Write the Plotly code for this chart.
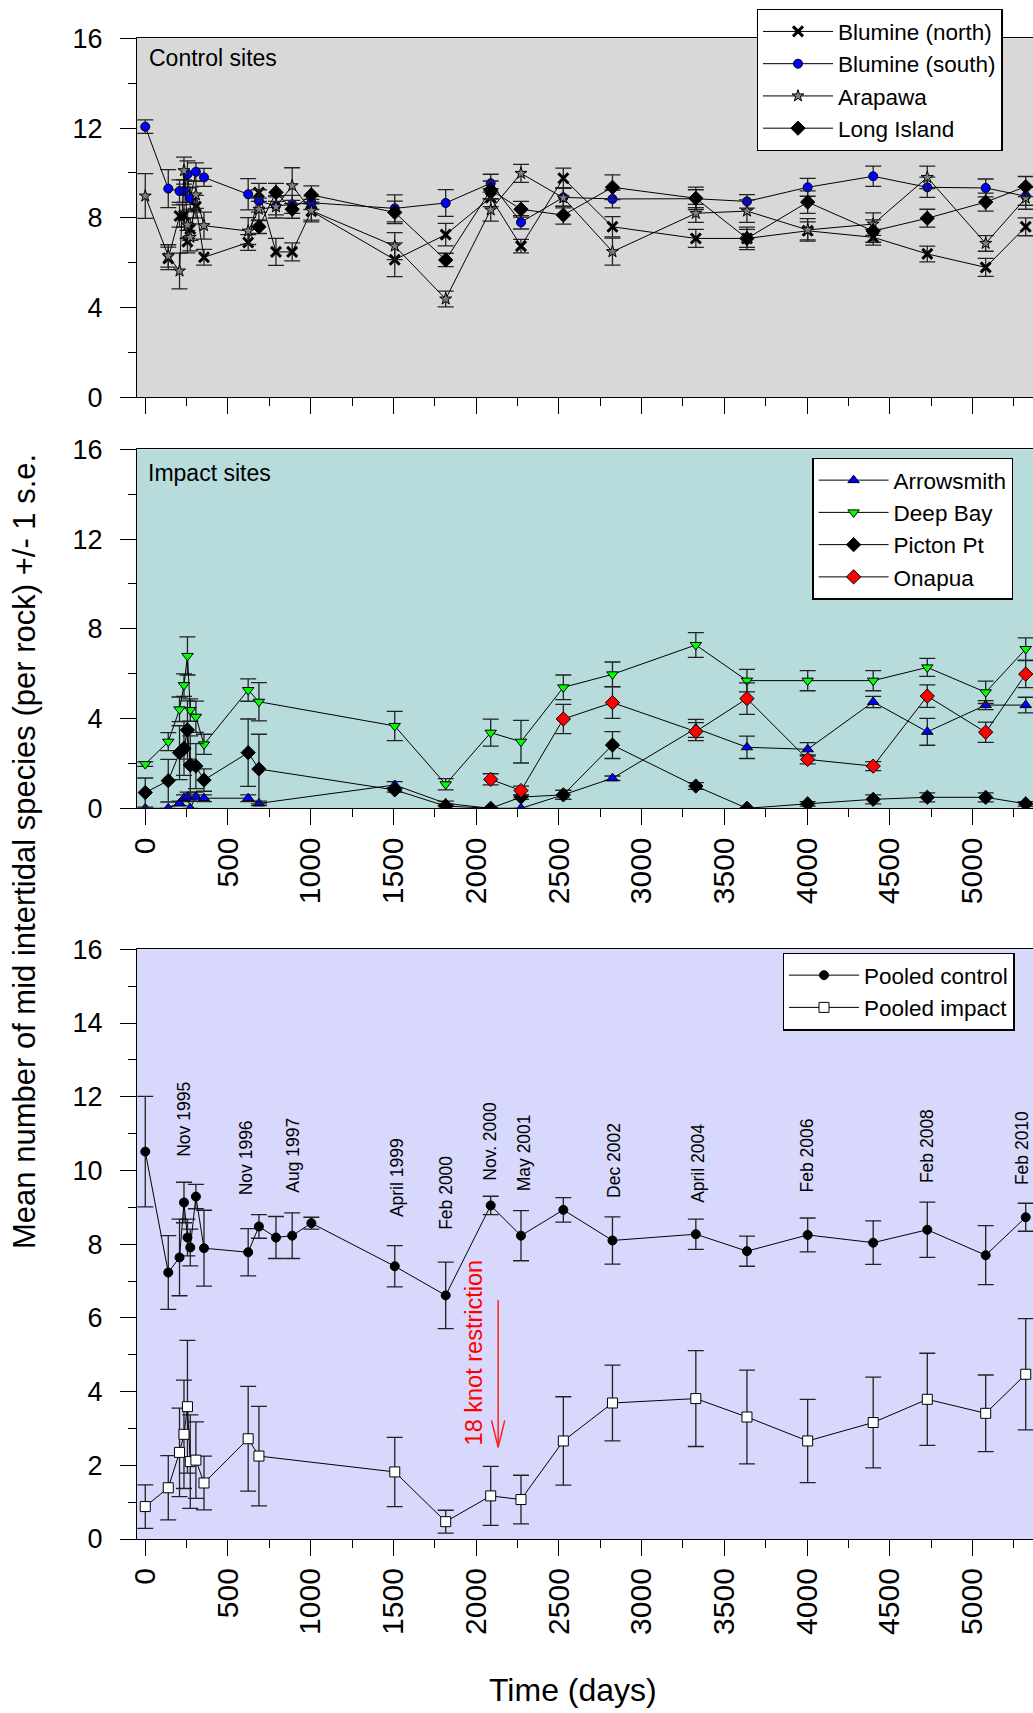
import plotly.graph_objects as go

# ---------------- data ----------------
days = [0, 139, 207, 234, 255, 272, 306, 355, 622, 687, 790, 888, 1004, 1508, 1816,
        2088, 2271, 2527, 2824, 3328, 3637, 4004, 4400, 4727, 5080, 5322]

# Control sites
blumine_north = [None, 6.19, 8.08, 8.1, 6.94, 7.5, 8.5, 6.24, 6.9, 9.13, 6.48, 6.48, 8.3, 6.13, 7.25,
                 8.9, 6.74, 9.76, 7.6, 7.08, 7.08, 7.42, 7.13, 6.39, 5.79, 7.6]
blumine_north_se = [None, 0.5, 0.5, 0.5, 0.5, 0.5, 0.5, 0.35, 0.35, 0.4, 0.6, 0.4, 0.4, 0.75, 0.5,
                    0.4, 0.3, 0.45, 0.45, 0.4, 0.4, 0.4, 0.35, 0.35, 0.4, 0.4]
blumine_south = [12.06, 9.30, 9.19, 9.19, 9.94, 8.87, 10.05, 9.80, 9.05, 8.75, 8.53, 8.6, 8.67, 8.42, 8.66,
                 9.54, 7.80, 8.91, 8.84, 8.85, 8.73, 9.36, 9.85, 9.36, 9.33, 8.96]
blumine_south_se = [0.3, 0.85, 0.5, 0.5, 0.6, 0.5, 0.4, 0.4, 0.7, 0.5, 0.4, 0.4, 0.3, 0.6, 0.6,
                    0.4, 0.3, 0.4, 0.4, 0.4, 0.3, 0.4, 0.45, 0.45, 0.4, 0.4]
arapawa = [8.97, 6.30, 5.63, 10.10, 7.68, 7.13, 9.02, 7.65, 7.41, 8.38, 8.49, 9.43, 8.32, 6.74, 4.38,
           8.35, 9.98, 8.89, 6.49, 8.2, 8.30, 7.46, 7.72, 9.80, 6.86, 8.88]
arapawa_se = [1.0, 0.5, 0.8, 0.6, 0.6, 0.6, 0.6, 0.6, 0.6, 0.5, 0.5, 0.8, 0.5, 0.6, 0.35,
              0.5, 0.4, 0.45, 0.6, 0.4, 0.5, 0.5, 0.5, 0.5, 0.35, 0.5]
long_island = [None, None, None, None, None, None, None, None, None, 7.6, 9.13, 8.38, 9.02, 8.24, 6.12,
               9.24, 8.38, 8.12, 9.36, 8.87, 7.08, 8.70, 7.41, 7.98, 8.70, 9.39]
long_island_se = [None, None, None, None, None, None, None, None, None, 0.3, 0.4, 0.4, 0.4, 0.5, 0.3,
                  0.4, 0.35, 0.4, 0.55, 0.5, 0.5, 0.5, 0.5, 0.4, 0.4, 0.45]

# Impact sites
arrowsmith = [0, 0, 0.22, 0.45, 0.52, 0, 0.52, 0.45, 0.45, 0.22, None, None, None, 1.04, 0.22,
              0, 0, 0.6, 1.34, 3.56, 2.72, 2.63, 4.74, 3.41, 4.6, 4.6]
arrowsmith_se = [0, 0, 0.1, 0.15, 0.2, 0, 0.2, 0.15, 0.15, 0.1, None, None, None, 0.15, 0.1,
                 0, 0, 0.2, 0.1, 0.4, 0.5, 0.3, 0.25, 0.6, 0.2, 0.35]
deep_bay = [1.97, 2.97, 4.41, 5.49, 6.79, 4.38, 4.08, 2.85, 5.27, 4.75, None, None, None, 3.67, 1.07,
            3.37, 2.97, 5.39, 5.97, 7.28, 5.69, 5.69, 5.69, 6.28, 5.17, 7.10]
deep_bay_se = [0.1, 0.4, 0.55, 0.5, 0.85, 0.5, 0.7, 0.45, 0.5, 0.85, None, None, None, 0.65, 0.25,
               0.6, 0.95, 0.55, 0.55, 0.55, 0.5, 0.45, 0.45, 0.4, 0.5, 0.5]
picton_pt = [0.7, 1.23, 2.48, 2.67, 3.49, 1.93, 1.88, 1.26, 2.48, 1.75, None, None, None, 0.82, 0.1,
             0, 0.5, 0.6, 2.82, 0.99, 0, 0.2, 0.4, 0.49, 0.49, 0.2]
picton_pt_se = [0.65, 0.95, 1.2, 1.2, 1.3, 1.3, 1.0, 0.5, 1.5, 1.55, None, None, None, 0.1, 0.1,
                0, 0.1, 0.2, 0.6, 0.15, 0, 0.1, 0.2, 0.2, 0.2, 0.1]
onapua = [None, None, None, None, None, None, None, None, None, None, None, None, None, None, None,
          1.29, 0.79, 3.98, 4.71, 3.42, 4.89, 2.18, 1.88, 5.0, 3.39, 5.98]
onapua_se = [None, None, None, None, None, None, None, None, None, None, None, None, None, None, None,
             0.25, 0.2, 0.65, 0.7, 0.4, 0.7, 0.2, 0.2, 0.5, 0.45, 0.6]

# Pooled
pooled_control = [10.51, 7.23, 7.64, 9.13, 8.18, 7.91, 9.29, 7.89, 7.78, 8.48, 8.18, 8.23, 8.57, 7.40, 6.61,
                  9.05, 8.23, 8.93, 8.10, 8.27, 7.81, 8.25, 8.04, 8.39, 7.70, 8.73]
pooled_control_se = [1.5, 1.0, 1.04, 0.55, 0.5, 0.5, 0.33, 1.03, 0.64, 0.32, 0.57, 0.62, 0.16, 0.56, 0.9,
                     0.25, 0.68, 0.33, 0.64, 0.41, 0.41, 0.46, 0.59, 0.75, 0.8, 0.38]
pooled_impact = [0.88, 1.39, 2.35, 2.84, 3.59, 2.10, 2.14, 1.52, 2.72, 2.25, None, None, None, 1.82, 0.47,
                 1.17, 1.07, 2.66, 3.69, 3.81, 3.31, 2.66, 3.16, 3.79, 3.41, 4.47]
pooled_impact_se = [0.59, 0.87, 1.2, 1.47, 1.8, 1.27, 1.04, 0.73, 1.42, 1.35, None, None, None, 0.94, 0.31,
                    0.8, 0.66, 1.2, 1.03, 1.3, 1.27, 1.13, 1.23, 1.25, 1.04, 1.51]

# Date labels on the pooled panel
date_labels = ["Nov 1995", "Nov 1996", "Aug 1997", "April 1999", "Feb 2000", "Nov. 2000", "May 2001",
               "Dec 2002", "April 2004", "Feb 2006", "Feb 2008", "Feb 2010"]
date_label_days = [232, 614, 892, 1521, 1817, 2085, 2290, 2834, 3345, 3998, 4727, 5300]
date_label_base = [10.32, 9.28, 9.35, 8.69, 8.33, 9.66, 9.37, 9.19, 9.07, 9.34, 9.61, 9.55]

restriction_text = "18 knot restriction"
restriction_day = 2133
arrow_top = 6.48
arrow_tip = 2.49

FONT = "Liberation Sans, Arial, sans-serif"
W, H = 1033, 1713
L = 137

fig = go.Figure()


def add(name, y, err, xa, ya, legend, symbol, color, size, lw=1):
    fig.add_trace(go.Scatter(
        x=days, y=y, name=name, mode="lines+markers", connectgaps=True,
        line=dict(color="black", width=1),
        marker=dict(symbol=symbol, color=color, size=size, line=dict(color="black", width=lw)),
        error_y=dict(type="data", array=err, visible=True, color="#222222", thickness=1.3, width=8),
        xaxis=xa, yaxis=ya, legend=legend))


add("Blumine (north)", blumine_north, blumine_north_se, "x", "y", "legend", "x-thin", "black", 10, 3)
add("Blumine (south)", blumine_south, blumine_south_se, "x", "y", "legend", "circle", "#0000ff", 9)
add("Arapawa", arapawa, arapawa_se, "x", "y", "legend", "star", "#808080", 9)
add("Long Island", long_island, long_island_se, "x", "y", "legend", "diamond", "black", 11)

add("Arrowsmith", arrowsmith, arrowsmith_se, "x2", "y2", "legend2", "triangle-up", "#0000ff", 10)
add("Deep Bay", deep_bay, deep_bay_se, "x2", "y2", "legend2", "triangle-down", "#00ff00", 10)
add("Picton Pt", picton_pt, picton_pt_se, "x2", "y2", "legend2", "diamond", "black", 11)
add("Onapua", onapua, onapua_se, "x2", "y2", "legend2", "diamond", "#ff0000", 11)

add("Pooled control", pooled_control, pooled_control_se, "x3", "y3", "legend3", "circle", "black", 9)
add("Pooled impact", pooled_impact, pooled_impact_se, "x3", "y3", "legend3", "square", "white", 10)


def px_to_py(py):
    return 1 - py / H


def px_to_px(px):
    return (px - L) / (W - L)


xbase = dict(range=[-50, 5366], showline=True, linecolor="black", linewidth=1.3, mirror=True,
             ticks="outside", ticklen=16, tickwidth=1.3, tickcolor="black", tick0=0, dtick=500,
             minor=dict(ticks="outside", ticklen=8, dtick=250, tickwidth=1.3, tickcolor="black"),
             showgrid=False, zeroline=False, tickangle=-90,
             tickfont=dict(size=30, family=FONT, color="black"), automargin=False)
ybase = dict(range=[0, 16], showline=True, linecolor="black", linewidth=1.3,
             ticks="outside", ticklen=16, tickwidth=1.3, tickcolor="black", tick0=0, dtick=4,
             minor=dict(ticks="outside", ticklen=8, dtick=2, tickwidth=1.3, tickcolor="black"),
             showgrid=False, zeroline=False, ticklabelstandoff=12,
             tickfont=dict(size=27, family=FONT, color="black"), automargin=False)

dom_top = [px_to_py(397.3), px_to_py(38.3)]
dom_mid = [px_to_py(808.3), px_to_py(449.3)]
dom_bot = [px_to_py(1539), px_to_py(949.3)]

ybot = dict(ybase)
ybot.update(dtick=2, minor=dict(ticks="outside", ticklen=8, dtick=1, tickwidth=1.3, tickcolor="black"))

legend_base = dict(bgcolor="white", bordercolor="black", borderwidth=1.3,
                   font=dict(size=22.5, family=FONT, color="black"), xanchor="left", yanchor="top",
                   itemwidth=70, tracegroupgap=0)

fig.update_layout(
    width=W, height=H, margin=dict(l=L, r=0, t=0, b=0),
    paper_bgcolor="white", plot_bgcolor="white",
    font=dict(family=FONT, color="black"),
    xaxis=dict(xbase, domain=[0, 1], anchor="y", showticklabels=False),
    yaxis=dict(ybase, domain=dom_top, anchor="x"),
    xaxis2=dict(xbase, domain=[0, 1], anchor="y2"),
    yaxis2=dict(ybase, domain=dom_mid, anchor="x2"),
    xaxis3=dict(xbase, domain=[0, 1], anchor="y3"),
    yaxis3=dict(ybot, domain=dom_bot, anchor="x3"),
    legend=dict(legend_base, x=px_to_px(756.7), y=px_to_py(9)),
    legend2=dict(legend_base, x=px_to_px(812.3), y=px_to_py(457.7)),
    legend3=dict(legend_base, x=px_to_px(782.7), y=px_to_py(952.7)),
    showlegend=True,
)

# panel backgrounds
for xr, yr, col in [("x", "y", "#d8d8d8"), ("x2", "y2", "#b8dcdc"), ("x3", "y3", "#d8d8fc")]:
    fig.add_shape(type="rect", xref=f"{xr} domain", yref=f"{yr} domain", x0=0, x1=1, y0=0, y1=1,
                  fillcolor=col, line=dict(width=0), layer="below")

# arrow for restriction
fig.add_shape(type="line", xref="x3", yref="y3", x0=restriction_day, x1=restriction_day,
              y0=arrow_top, y1=arrow_tip, line=dict(color="#ff2020", width=1.5))
fig.add_shape(type="path", xref="x3", yref="y3",
              path=f"M {restriction_day - 40},{arrow_tip + 0.73} L {restriction_day},{arrow_tip} "
                   f"L {restriction_day + 40},{arrow_tip + 0.73}",
              line=dict(color="#ff2020", width=1.5))

fig.add_annotation(text=restriction_text, xref="x3", yref="y3", x=1984, y=5.05, textangle=-90,
                   showarrow=False, font=dict(size=23.5, color="#ff0000", family=FONT),
                   xanchor="center", yanchor="middle")

for lab, d, b in zip(date_labels, date_label_days, date_label_base):
    fig.add_annotation(text=lab, xref="x3", yref="y3", x=d, y=b, textangle=-90, showarrow=False,
                       font=dict(size=17.5, color="black", family=FONT), xanchor="center", yanchor="bottom")

fig.add_annotation(text="Control sites", xref="paper", yref="paper", x=px_to_px(146.7), y=px_to_py(58.3),
                   showarrow=False, xanchor="left", yanchor="middle", font=dict(size=23, family=FONT))
fig.add_annotation(text="Impact sites", xref="paper", yref="paper", x=px_to_px(146), y=px_to_py(473.3),
                   showarrow=False, xanchor="left", yanchor="middle", font=dict(size=23, family=FONT))

fig.add_annotation(text="Mean number of mid intertidal species (per rock) +/- 1 s.e.",
                   xref="paper", yref="paper", x=px_to_px(24), y=px_to_py(852), textangle=-90,
                   showarrow=False, xanchor="center", yanchor="middle", font=dict(size=31, family=FONT))
fig.add_annotation(text="Time (days)", xref="paper", yref="paper", x=px_to_px(573), y=px_to_py(1690),
                   showarrow=False, xanchor="center", yanchor="middle", font=dict(size=32, family=FONT))

fig.write_html("out.html")
